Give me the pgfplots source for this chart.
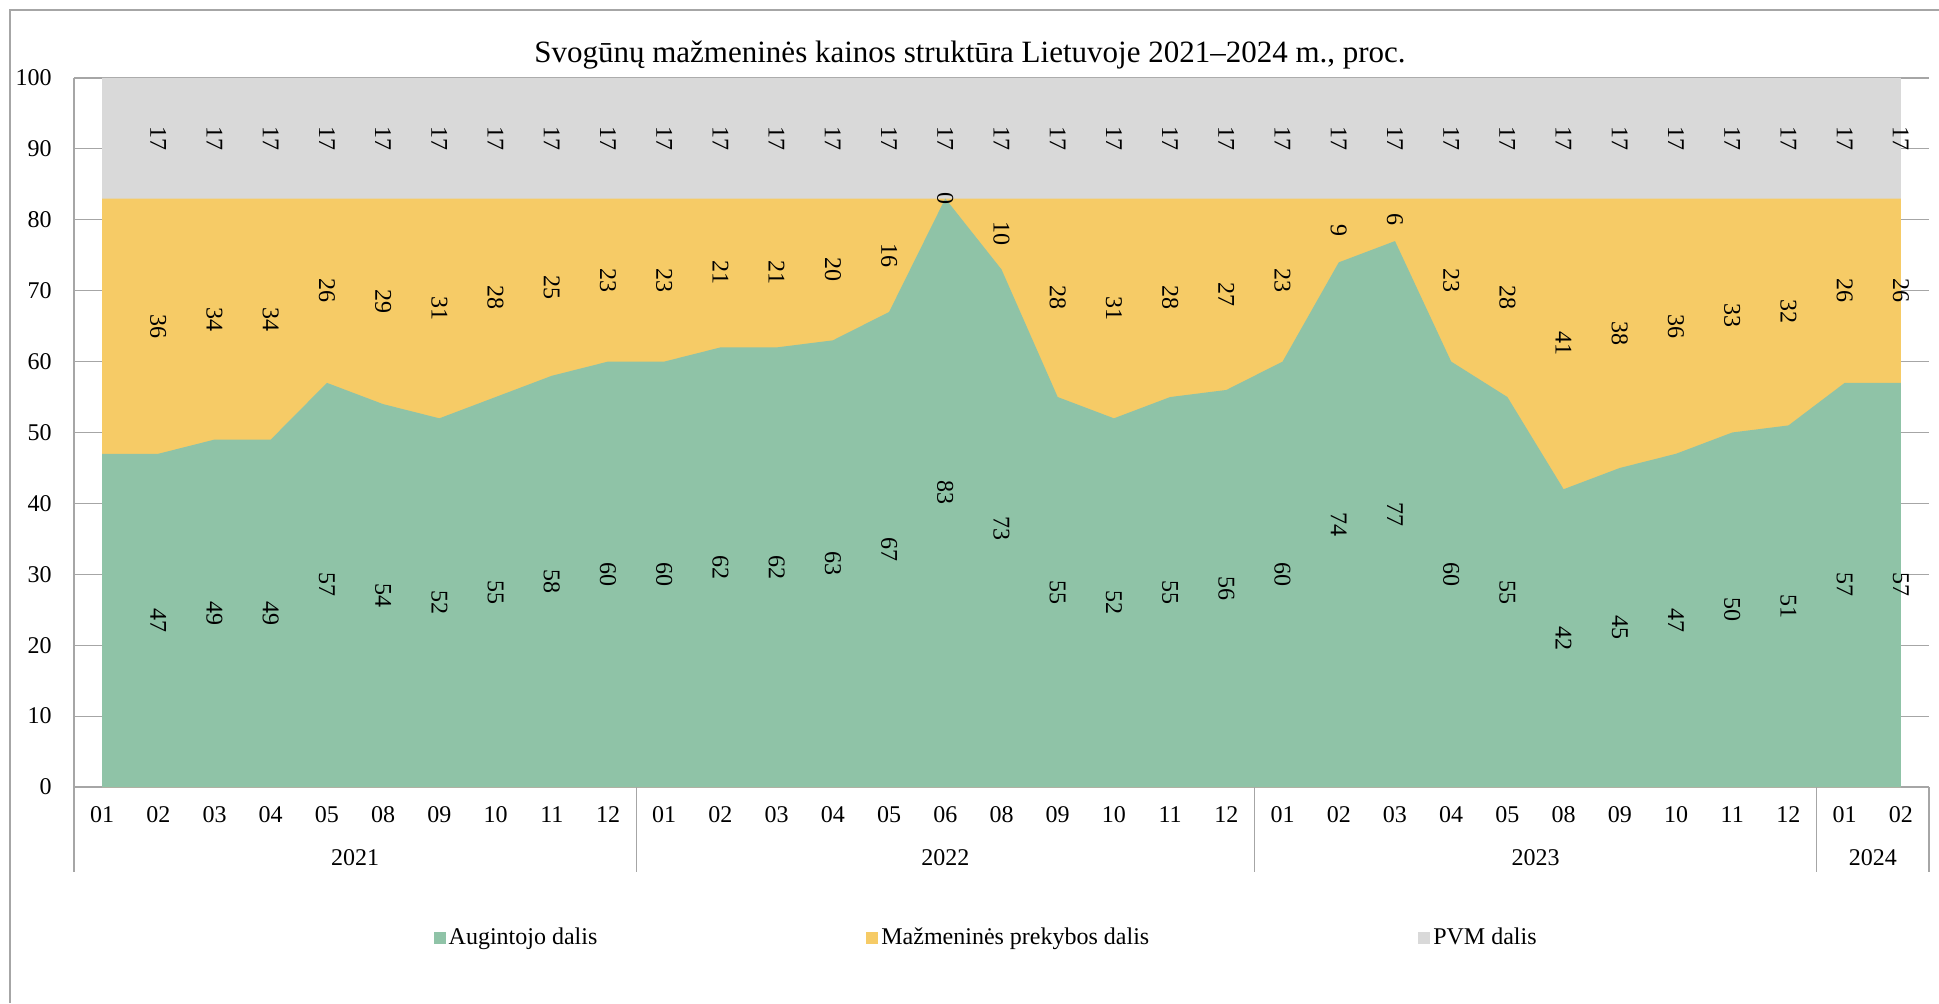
\documentclass[border=0pt]{standalone}
\usepackage{fontspec}
\setmainfont{Liberation Serif}
\usepackage{pgfplots}
\usepackage{pgfplotstable}
\pgfplotsset{compat=1.18}
\definecolor{cgreen}{RGB}{143,195,167}
\definecolor{cyellow}{RGB}{246,203,102}
\definecolor{cgrey}{RGB}{217,217,217}
\definecolor{gridc}{RGB}{166,166,166}
\pgfplotstableread{
x g r p
0 47 36 17
1 47 36 17
2 49 34 17
3 49 34 17
4 57 26 17
5 54 29 17
6 52 31 17
7 55 28 17
8 58 25 17
9 60 23 17
10 60 23 17
11 62 21 17
12 62 21 17
13 63 20 17
14 67 16 17
15 83 0 17
16 73 10 17
17 55 28 17
18 52 31 17
19 55 28 17
20 56 27 17
21 60 23 17
22 74 9 17
23 77 6 17
24 60 23 17
25 55 28 17
26 42 41 17
27 45 38 17
28 47 36 17
29 50 33 17
30 51 32 17
31 57 26 17
32 57 26 17
}\data
\newcommand{\lblfont}{\fontsize{12}{14}\selectfont}
\begin{document}
\begin{tikzpicture}
\draw[gridc, line width=0.6pt] (5pt,0) -- (5pt,496.5pt) -- (969.5pt,496.5pt);
\node[font=\fontsize{15.5}{17}\selectfont, anchor=center] at (485pt,474pt) {Svogūnų mažmeninės kainos struktūra Lietuvoje 2021–2024 m., proc.};
\begin{axis}[
  set layers=standard,
  at={(37pt,108pt)}, anchor=south west,
  scale only axis, width=927.5pt, height=354.5pt,
  xmin=-0.5, xmax=32.5, ymin=0, ymax=100,
  ytick={0,10,...,100},
  xtick={0,...,32},
  xticklabels={01,02,03,04,05,08,09,10,11,12,01,02,03,04,05,06,08,09,10,11,12,01,02,03,04,05,08,09,10,11,12,01,02},
  major tick length=0pt,
  ymajorgrids, grid style={gridc, line width=0.6pt},
  axis x line*=bottom, axis y line*=left,
  axis line style={gridc, line width=0.6pt, -},
  /pgf/number format/assume math mode=true,
  tick label style={font=\lblfont, black},
  xticklabel style={anchor=center, yshift=-14pt},
  yticklabel style={anchor=east, inner sep=0pt, xshift=-11pt},
  clip=false,
  reverse legend,
  legend columns=3,
  legend image code/.code={\fill[#1] (0pt,-3pt) rectangle (6pt,3pt);},
  legend style={draw=none, fill=none, at={(0.492,-0.213)}, anchor=center,
    font=\lblfont, /tikz/every even column/.append style={column sep=133pt},
    nodes={inner sep=1.5pt}},
  every node near coord/.append style={rotate=-90, anchor=center, inner sep=0pt, font=\lblfont, black},
]
\addplot[fill=cgrey, draw=none] table[x=x, y expr=\thisrow{g}+\thisrow{r}+\thisrow{p}] {\data} \closedcycle;
\addlegendentry{PVM dalis}
\addplot[fill=cyellow, draw=none] table[x=x, y expr=\thisrow{g}+\thisrow{r}] {\data} \closedcycle;
\addlegendentry{Mažmeninės prekybos dalis}
\addplot[fill=cgreen, draw=none] table[x=x, y=g] {\data} \closedcycle;
\addlegendentry{Augintojo dalis}

\addplot[forget plot, draw=none, mark=none, nodes near coords, point meta=explicit, skip coords between index={0}{1}] table[x=x, y expr=\thisrow{g}/2, meta=g] {\data};
\addplot[forget plot, draw=none, mark=none, nodes near coords, point meta=explicit, skip coords between index={0}{1}] table[x=x, y expr=\thisrow{g}+\thisrow{r}/2, meta=r] {\data};
\addplot[forget plot, draw=none, mark=none, nodes near coords, point meta=explicit, skip coords between index={0}{1}] table[x=x, y expr=\thisrow{g}+\thisrow{r}+\thisrow{p}/2, meta=p] {\data};

\draw[gridc, line width=0.6pt] (axis cs:-0.5,0) -- ++(0pt,-42.5pt);
\draw[gridc, line width=0.6pt] (axis cs:9.5,0) -- ++(0pt,-42.5pt);
\draw[gridc, line width=0.6pt] (axis cs:20.5,0) -- ++(0pt,-42.5pt);
\draw[gridc, line width=0.6pt] (axis cs:30.5,0) -- ++(0pt,-42.5pt);
\draw[gridc, line width=0.6pt] (axis cs:32.5,0) -- ++(0pt,-42.5pt);
\node[font=\lblfont] at (axis cs:4.5,0) [yshift=-35.5pt] {2021};
\node[font=\lblfont] at (axis cs:15,0) [yshift=-35.5pt] {2022};
\node[font=\lblfont] at (axis cs:25.5,0) [yshift=-35.5pt] {2023};
\node[font=\lblfont] at (axis cs:31.5,0) [yshift=-35.5pt] {2024};
\end{axis}
\pgfresetboundingbox
\path[use as bounding box] (0,0) rectangle (969.5pt,501.5pt);
\end{tikzpicture}
\end{document}
